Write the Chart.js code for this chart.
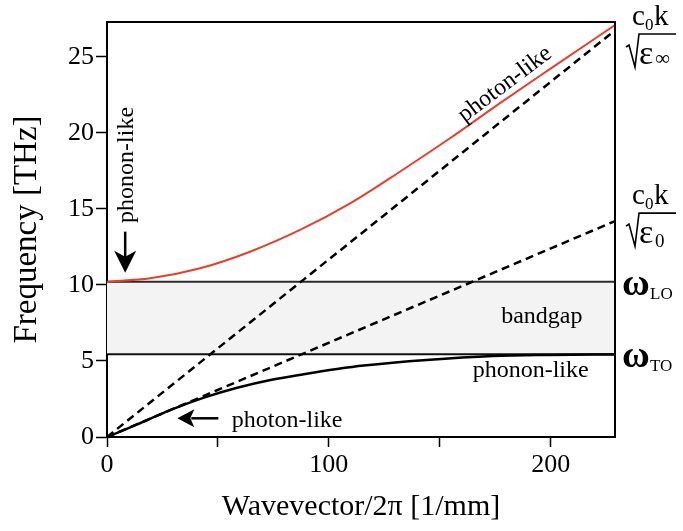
<!DOCTYPE html>
<html><head><meta charset="utf-8">
<script src="https://cdn.jsdelivr.net/npm/chart.js@4.4.1/dist/chart.umd.min.js"></script>
<style>html,body{margin:0;padding:0;background:#fff}</style>
</head><body>
<canvas id="c" width="683" height="531"></canvas>
<script>
// ---- data ----
const upperK = [0, 19.5, 42, 64.5, 87, 109.6, 132, 154.6, 177, 199.6, 229];
const upperF = [10.22, 10.44, 11.1, 12.19, 13.62, 15.37, 17.45, 19.65, 21.95, 24.2, 27.1];
const lowerK = [0, 13.7, 28.7, 43.7, 58.7, 73.7, 88.7, 103.7, 115.7, 144, 174, 200, 229];
const lowerF = [0, 0.83, 1.78, 2.59, 3.24, 3.75, 4.13, 4.47, 4.7, 5.07, 5.33, 5.4, 5.43];
const infK = [0, 229];
const infF = [0, 26.75];
const zeroK = [0, 229];
const zeroF = [0, 14.2];
const wLO = 10.22;
const wTO = 5.45;
const xTickValues = [0, 50, 100, 150, 200];
const xTickLabels = ['0', '', '100', '', '200'];
const yTickValues = [0, 5, 10, 15, 20, 25];
const yTickLabels = ['0', '5', '10', '15', '20', '25'];
const xMax = 229, yMax = 27.3;

const SERIF = '"Liberation Serif", "Times New Roman", serif';
const pts = (xs, ys) => xs.map((v, i) => ({x: v, y: ys[i]}));

function arrowHead(ctx, tx, ty, dir) {
  ctx.beginPath();
  if (dir === 'down') {
    ctx.moveTo(tx, ty);
    ctx.lineTo(tx - 11, ty - 22);
    ctx.lineTo(tx, ty - 16);
    ctx.lineTo(tx + 11, ty - 22);
  } else {
    ctx.moveTo(tx, ty);
    ctx.lineTo(tx + 17, ty - 9);
    ctx.lineTo(tx + 13, ty);
    ctx.lineTo(tx + 17, ty + 9);
  }
  ctx.closePath();
  ctx.fill();
}

const annot = {
  id: 'annot',
  afterDatasetsDraw(chart) {
    const {ctx, chartArea: a, scales: {x, y}} = chart;
    ctx.save();
    ctx.strokeStyle = '#000';
    ctx.lineWidth = 2;
    ctx.beginPath();
    ctx.moveTo(a.left, a.top); ctx.lineTo(a.right, a.top); ctx.lineTo(a.right, a.bottom);
    ctx.stroke();

    ctx.fillStyle = '#000';
    ctx.strokeStyle = '#000';
    ctx.textAlign = 'center';
    ctx.textBaseline = 'middle';
    ctx.font = '24px ' + SERIF;

    ctx.save();
    ctx.translate(x.getPixelForValue(9.1), y.getPixelForValue(17.9));
    ctx.rotate(-Math.PI / 2);
    ctx.fillText('phonon-like', 0, 0);
    ctx.restore();
    const ax = x.getPixelForValue(8.2);
    const tipY = y.getPixelForValue(wLO) - 9;
    ctx.lineWidth = 2.5;
    ctx.beginPath(); ctx.moveTo(ax, tipY - 41); ctx.lineTo(ax, tipY - 14); ctx.stroke();
    arrowHead(ctx, ax, tipY, 'down');

    ctx.save();
    ctx.translate(x.getPixelForValue(179.4), y.getPixelForValue(23.2));
    ctx.rotate(-37 * Math.PI / 180);
    ctx.fillText('photon-like', 0, 0);
    ctx.restore();

    ctx.fillText('bandgap', x.getPixelForValue(196), (y.getPixelForValue(wLO) + y.getPixelForValue(wTO)) / 2 - 1);
    ctx.fillText('phonon-like', x.getPixelForValue(191), y.getPixelForValue(wTO) + 17);
    ctx.fillText('photon-like', x.getPixelForValue(81.2), y.getPixelForValue(1.1));
    const ly = y.getPixelForValue(1.23);
    const lx = x.getPixelForValue(31.7);
    ctx.lineWidth = 2.5;
    ctx.beginPath(); ctx.moveTo(lx + 14, ly); ctx.lineTo(lx + 41, ly); ctx.stroke();
    arrowHead(ctx, lx, ly, 'left');

    ctx.textAlign = 'left';
    ctx.textBaseline = 'alphabetic';
    const rx = a.right;
    function sqrtFrac(barY, subTxt, subFont, subDx, subDy) {
      ctx.font = '29px ' + SERIF;
      ctx.fillText('c', rx + 17, barY - 8);
      ctx.font = '17px ' + SERIF;
      ctx.fillText('0', rx + 30, barY - 3);
      ctx.font = '29px ' + SERIF;
      ctx.fillText('k', rx + 39, barY - 8);
      ctx.lineWidth = 1.6;
      ctx.beginPath();
      ctx.moveTo(rx + 11, barY + 14);
      ctx.lineTo(rx + 14, barY + 12);
      ctx.lineTo(rx + 20, barY + 34);
      ctx.lineTo(rx + 24, barY + 1);
      ctx.lineTo(rx + 61, barY + 1);
      ctx.stroke();
      ctx.font = '34px ' + SERIF;
      ctx.fillText('\u03b5', rx + 24, barY + 31);
      ctx.font = subFont;
      ctx.fillText(subTxt, rx + subDx, barY + 31 + subDy);
    }
    sqrtFrac(a.top + 11, '\u221e', '21px ' + SERIF, 40, 1);
    sqrtFrac(y.getPixelForValue(zeroF[1]) - 9, '0', '19px ' + SERIF, 40, 4);

    function omega(lineVal, sub) {
      const py = y.getPixelForValue(lineVal);
      ctx.font = 'bold 38px ' + SERIF;
      ctx.fillText('\u03c9', rx + 7, py + 13);
      ctx.font = '17px ' + SERIF;
      ctx.fillText(sub, rx + 35, py + 17);
    }
    omega(wLO, 'LO');
    omega(wTO, 'TO');
    ctx.restore();
  }
};

const tickFont = {family: SERIF, size: 26};
new Chart(document.getElementById('c'), {
  type: 'line',
  data: {
    datasets: [
      {data: pts(upperK, upperF), borderColor: '#e5402d', borderWidth: 2, cubicInterpolationMode: 'monotone'},
      {data: pts(lowerK, lowerF), borderColor: '#000', borderWidth: 2.5, cubicInterpolationMode: 'monotone'},
      {data: pts(infK, infF), borderColor: '#000', borderWidth: 2.5, borderDash: [8, 5]},
      {data: pts(zeroK, zeroF), borderColor: '#000', borderWidth: 2.5, borderDash: [8, 5]},
      {data: pts([0, xMax], [wLO, wLO]), borderColor: '#2a2a2a', borderWidth: 2},
      {data: pts([0, xMax], [wTO, wTO]), borderColor: '#111', borderWidth: 2, fill: 4, backgroundColor: '#f3f3f3'}
    ]
  },
  options: {
    responsive: false,
    animation: false,
    devicePixelRatio: 1,
    layout: {padding: {top: 22, right: 68, left: 0, bottom: 0}},
    elements: {point: {radius: 0, hoverRadius: 0}, line: {fill: false}},
    plugins: {legend: {display: false}, tooltip: {enabled: false}, filler: {drawTime: 'beforeDatasetsDraw'}},
    scales: {
      x: {
        type: 'linear', min: 0, max: xMax,
        afterFit: s => { s.height = 94; },
        afterBuildTicks: s => { s.ticks = xTickValues.map(v => ({value: v})); },
        ticks: {font: tickFont, color: '#000', padding: 3, maxRotation: 0, autoSkip: false,
                callback: (v, i) => xTickLabels[i]},
        grid: {drawOnChartArea: false, drawTicks: true, tickLength: 10, tickWidth: 1.5, tickColor: '#000'},
        border: {display: true, color: '#000', width: 2},
        title: {display: true, text: 'Wavevector/2\u03c0 [1/mm]', font: {family: SERIF, size: 30}, color: '#000', padding: {top: 0, bottom: 6}}
      },
      y: {
        type: 'linear', min: 0, max: yMax,
        afterFit: s => { s.width = 107; },
        afterBuildTicks: s => { s.ticks = yTickValues.map(v => ({value: v})); },
        ticks: {font: tickFont, color: '#000', padding: 2, autoSkip: false,
                callback: (v, i) => yTickLabels[i]},
        grid: {drawOnChartArea: false, drawTicks: true, tickLength: 11, tickWidth: 1.5, tickColor: '#000'},
        border: {display: true, color: '#000', width: 2},
        title: {display: true, text: 'Frequency [THz]', font: {family: SERIF, size: 33}, color: '#000', padding: {top: 8, bottom: 0}}
      }
    }
  },
  plugins: [annot]
});
</script>
</body></html>
